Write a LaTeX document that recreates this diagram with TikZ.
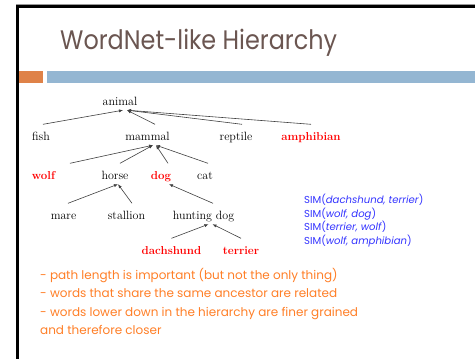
\documentclass[tikz,border=0pt]{standalone}
\usepackage{fontspec}
\newfontfamily\gothic{Poppins}
\usetikzlibrary{arrows.meta}
\definecolor{titlecol}{HTML}{6B5651}
\definecolor{barorange}{HTML}{DF8248}
\definecolor{barblue}{HTML}{94B6D2}
\definecolor{simblue}{HTML}{3333FF}
\definecolor{noteorange}{HTML}{FF7F27}
\definecolor{wordred}{HTML}{FF0000}
\begin{document}
\begin{tikzpicture}[x=1pt,y=-1pt,
  word/.style={anchor=base,inner sep=2pt,text height=13.5pt,text depth=3pt,font=\fontsize{12}{12}\selectfont},
  key/.style={word,text=wordred,font=\fontsize{11.5}{12}\selectfont\bfseries},
  isa/.style={draw=black!75,line width=0.6pt,-{Latex[length=4pt,width=3.2pt]}},
  sim/.style={anchor=base west,inner sep=0,text=simblue,font=\gothic\fontsize{10.1}{11}\selectfont},
  note/.style={anchor=base west,inner sep=0,text=noteorange,font=\gothic\fontsize{12}{13}\selectfont}]
\useasboundingbox (0,0) rectangle (475,359);
\fill[white] (0,0) rectangle (475,359);
% frame
\draw[black!40,line width=1pt] (16,4.3) -- (475,4.3);
\draw[black,line width=2.5pt] (17.5,6.3) -- (475,6.3);
\draw[black,line width=2.7pt] (17.5,5) -- (17.5,359);
\fill[barorange] (18.8,71) rectangle (43,83);
\fill[barblue] (47,71) rectangle (475,83);
\node[anchor=base west,inner sep=0,text=titlecol,font=\gothic\fontsize{23.9}{26}\selectfont] (title) at (60,49) {\scalebox{1}[1.12]{WordNet-like Hierarchy}};
% tree
\node[word] (animal) at (120,105) {animal};
\node[word] (fish) at (41,140) {fish};
\node[word] (mammal) at (147.5,140) {mammal};
\node[word] (reptile) at (236,140) {reptile};
\node[key] (amphibian) at (311,140) {amphibian};
\node[key] (wolf) at (43.5,179) {wolf};
\node[word] (horse) at (115,179) {horse};
\node[key] (dog) at (161,179) {dog};
\node[word] (cat) at (205,179) {cat};
\node[word] (mare) at (63.5,219) {mare};
\node[word] (stallion) at (126.5,219) {stallion};
\node[word] (hunting) at (203.5,219) {hunting dog};
\node[key] (dachshund) at (171.5,254) {dachshund};
\node[key] (terrier) at (241,254) {terrier};
\draw[isa] ([xshift=2pt]fish.north) -- ([xshift=3pt]animal.south);
\draw[isa] ([xshift=7.5pt]mammal.north) -- ([xshift=7pt]animal.south);
\draw[isa] ([xshift=6pt]reptile.north) -- ([xshift=7pt]animal.south);
\draw[isa] (amphibian.north) -- ([xshift=7pt]animal.south);
\draw[isa] ([xshift=26.5pt]wolf.north) -- ([xshift=5.5pt]mammal.south);
\draw[isa] ([xshift=5pt]horse.north) -- ([xshift=5.5pt]mammal.south);
\draw[isa] ([xshift=7pt]dog.north) -- ([xshift=8.5pt]mammal.south);
\draw[isa] ([xshift=3pt]cat.north) -- ([xshift=8.5pt]mammal.south);
\draw[isa] ([xshift=4.5pt]mare.north) -- ([xshift=3pt]horse.south);
\draw[isa] ([xshift=5.5pt]stallion.north) -- ([xshift=3pt]horse.south);
\draw[isa] ([xshift=9.5pt]hunting.north) -- ([xshift=8pt]dog.south);
\draw[isa] (dachshund.north) -- ([xshift=5pt]hunting.south);
\draw[isa] (terrier.north) -- ([xshift=9pt]hunting.south);
% similarity examples
\node[sim] (s1) at (304,203.5) {SIM(\textit{dachshund, terrier})};
\node[sim] (s2) at (304,217) {SIM(\textit{wolf, dog})};
\node[sim] (s3) at (304,230.5) {SIM(\textit{terrier, wolf})};
\node[sim] (s4) at (304,244) {SIM(\textit{wolf, amphibian})};
% notes
\node[note] (n1) at (40,279) {- path length is important (but not the only thing)};
\node[note] (n2) at (40,297.5) {- words that share the same ancestor are related};
\node[note] (n3) at (40,316) {- words lower down in the hierarchy are finer grained};
\node[note] (n4) at (40,334.5) {and therefore closer};
\end{tikzpicture}
\end{document}
